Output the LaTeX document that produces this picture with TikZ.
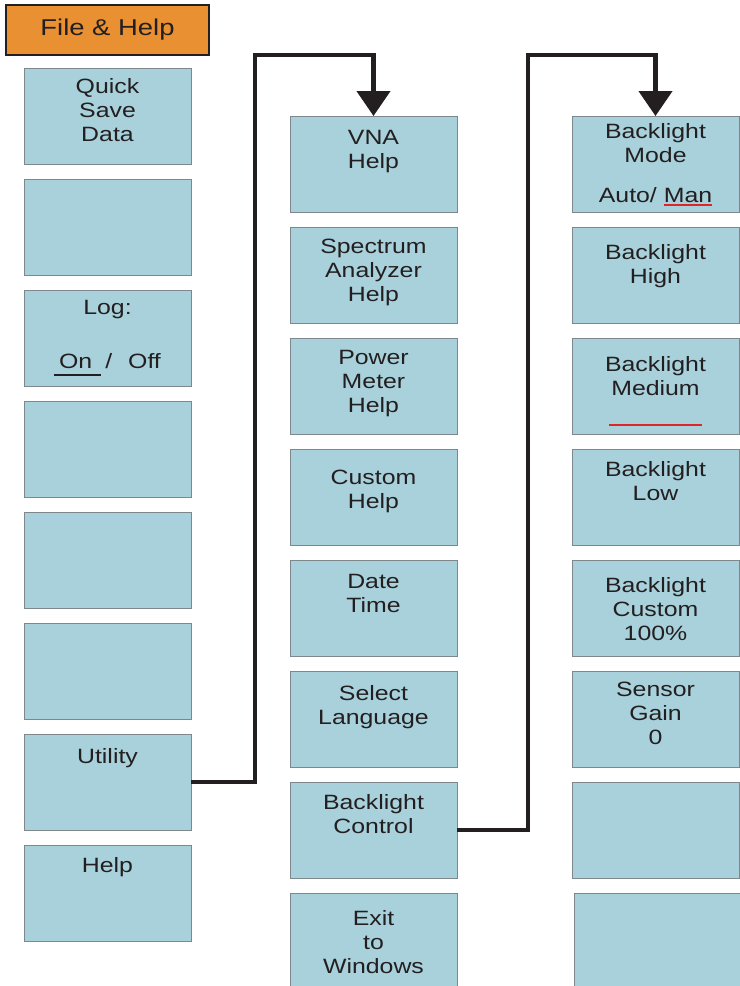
\documentclass[tikz,border=0pt]{standalone}
\usepackage{fontspec}
\setmainfont{Liberation Sans}[FakeStretch=1.2]
\usetikzlibrary{arrows.meta,positioning}

\newlength\px
\setlength\px{0.7pt}
\definecolor{keyfill}{RGB}{168,209,219}
\definecolor{keyedge}{RGB}{125,135,140}
\definecolor{tabfill}{RGB}{232,144,50}
\definecolor{inkdark}{RGB}{35,31,32}
\definecolor{selred}{RGB}{222,38,42}

% soft key text, top aligned with a given top gap
\newcommand\keytext[2][10]{\parbox[c][96\px][t]{167\px}{\centering\vspace*{#1\px}#2\par}}
% selected option bar under a word
\newcommand\selbar[3]{\leavevmode\setbox0\hbox{#3}\rlap{\color{#1}\rule[-#2\px]{\wd0}{2.2\px}}\box0}

\begin{document}
\begin{tikzpicture}[
        x=\px, y=-\px,
        node distance=15\px,
        key/.style={
            draw=keyedge,
            fill=keyfill,
            line width=0.7pt,
            inner sep=0pt,
            outer sep=0pt,
            minimum width=116.9pt,
            minimum height=67.2pt,
            text=inkdark,
            font=\fontsize{14.5pt}{16.8pt}\selectfont
        },
        tab/.style={
            draw=inkdark,
            fill=tabfill,
            line width=1.4pt,
            minimum width=142.1pt,
            minimum height=35pt,
            text=inkdark,
            font=\fontsize{16pt}{18pt}\selectfont
        },
        link/.style={
            -{Triangle[length=17.5pt,width=23.1pt]},
            line width=3.15pt,
            draw=inkdark
        }
    ]
        \useasboundingbox (0,0) rectangle (740,986);
        \clip (0,0) rectangle (740,986);

        \node[tab] (filehelp) at (107.5,30) {File \& Help};

        % main menu
        \node[key, anchor=north west] (qsave) at (24,68) {\keytext{Quick\\Save\\Data}};
        \node[key, below=of qsave] (mblank1) {\keytext{}};
        \node[key, below=of mblank1] (logkey) {\keytext{Log:\\[30\px]\selbar{inkdark}{8}{\kern5\px On\kern9\px}\kern4\px/\kern16\px Off}};
        \node[key, below=of logkey] (mblank2) {\keytext{}};
        \node[key, below=of mblank2] (mblank3) {\keytext{}};
        \node[key, below=of mblank3] (mblank4) {\keytext{}};
        \node[key, below=of mblank4] (util) {\keytext[14]{Utility}};
        \node[key, below=of util] (helpkey) {\keytext[12]{Help}};

        % utility menu
        \node[key, anchor=north west] (vna) at (290,116) {\keytext[14]{VNA\\Help}};
        \node[key, below=of vna] (sahelp) {\keytext[12]{Spectrum\\Analyzer\\Help}};
        \node[key, below=of sahelp] (pmhelp) {\keytext[12]{Power\\Meter\\Help}};
        \node[key, below=of pmhelp] (cushelp) {\keytext[21]{Custom\\Help}};
        \node[key, below=of cushelp] (datetime) {\keytext[14]{Date\\Time}};
        \node[key, below=of datetime] (lang) {\keytext[14]{Select\\Language}};
        \node[key, below=of lang] (blctl) {\keytext[12]{Backlight\\Control}};
        \node[key, below=of blctl] (exitwin) {\keytext[17]{Exit\\to\\Windows}};

        % backlight menu
        \node[key, anchor=north west] (blmode) at (572,116) {\keytext[7]{Backlight\\Mode\\[16\px]Auto/ \selbar{selred}{4}{Man}}};
        \node[key, below=of blmode] (blhigh) {\keytext[17]{Backlight\\High}};
        \node[key, below=of blhigh] (blmed) {\keytext[18]{Backlight\\Medium\\[7\px]{\color{selred}\rule{93\px}{2.5\px}}}};
        \node[key, below=of blmed] (bllow) {\keytext[12]{Backlight\\Low}};
        \node[key, below=of bllow] (blcus) {\keytext[17]{Backlight\\Custom\\100\%}};
        \node[key, below=of blcus] (sgain) {\keytext[11]{Sensor\\Gain\\0}};
        \node[key, below=of sgain] (bblank1) {\keytext{}};
        \node[key, below=of bblank1, xshift=1.4pt] (bblank2) {\keytext{}};

        \coordinate (bend1) at (255,55);
        \coordinate (bend2) at (528,55);

        \draw[link] (util.east) -| (bend1) -| (vna.north);
        \draw[link] (blctl.east) -| (bend2) -| (blmode.north);
    \end{tikzpicture}
\end{document}
